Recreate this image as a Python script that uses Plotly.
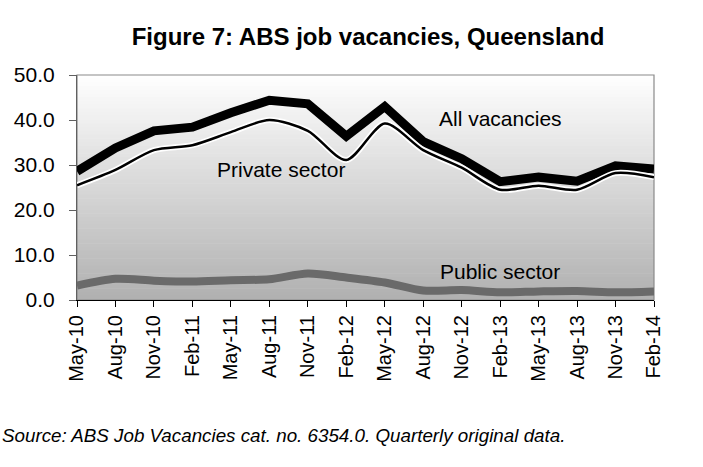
import plotly.graph_objects as go

quarters = ["May-10", "Aug-10", "Nov-10", "Feb-11", "May-11", "Aug-11", "Nov-11", "Feb-12",
            "May-12", "Aug-12", "Nov-12", "Feb-13", "May-13", "Aug-13", "Nov-13", "Feb-14"]
all_vacancies = [28.6, 33.8, 37.6, 38.4, 41.6, 44.4, 43.6, 36.4,
                 43.0, 35.2, 31.4, 26.3, 27.3, 26.4, 29.8, 29.1]
private_sector = [25.5, 28.9, 33.3, 34.4, 37.3, 40.0, 37.6, 31.1,
                  39.2, 33.3, 29.4, 24.5, 25.4, 24.5, 28.2, 27.3]
public_sector = [3.2, 4.7, 4.3, 4.1, 4.4, 4.6, 5.9, 5.0,
                 3.9, 2.1, 2.2, 1.7, 1.9, 2.0, 1.7, 1.9]
y_ticks = [0, 10, 20, 30, 40, 50]

FONT = "Liberation Sans, Arial, sans-serif"

fig = go.Figure()
fig.add_trace(go.Scatter(x=quarters, y=all_vacancies, mode="lines",
                         line=dict(color="black", width=9), hoverinfo="skip"))
fig.add_trace(go.Scatter(x=quarters, y=private_sector, mode="lines",
                         line=dict(color="white", width=6, shape="spline", smoothing=0.8),
                         hoverinfo="skip"))
fig.add_trace(go.Scatter(x=quarters, y=private_sector, mode="lines",
                         line=dict(color="black", width=2.5, shape="spline", smoothing=0.8)))
fig.add_trace(go.Scatter(x=quarters, y=public_sector, mode="lines",
                         line=dict(color="#6a6a6a", width=8, shape="spline", smoothing=0.8)))

# vertical gradient background
shapes = []
n = 60
top = (255, 255, 255)
bot = (176, 176, 176)
for i in range(n):
    t = (i + 0.5) / n
    c = tuple(int(round(top[k] + (bot[k] - top[k]) * t)) for k in range(3))
    shapes.append(dict(type="rect", xref="x domain", yref="y domain",
                       x0=0, x1=1, y0=1 - (i + 1) / n, y1=1 - i / n + 0.002,
                       fillcolor="rgb(%d,%d,%d)" % c, line=dict(width=0), layer="below"))
shapes.append(dict(type="rect", xref="x domain", yref="y domain", x0=0, x1=1, y0=0, y1=1,
                   line=dict(color="#8a8a8a", width=1.2), layer="below"))

annotations = [
    dict(x=11.0, y=40.4, text="All vacancies", showarrow=False, font=dict(size=21, color="black", family=FONT)),
    dict(x=5.3, y=28.9, text="Private sector", showarrow=False, font=dict(size=21, color="black", family=FONT)),
    dict(x=11.0, y=6.4, text="Public sector", showarrow=False, font=dict(size=21, color="black", family=FONT)),
    dict(xref="paper", yref="paper", x=-0.1334, y=-0.604, xanchor="left", yanchor="middle",
         text="<i>Source: ABS Job Vacancies cat. no. 6354.0. Quarterly original data.</i>",
         showarrow=False, font=dict(size=18.8, color="black", family=FONT)),
]

fig.update_layout(
    width=703, height=467,
    margin=dict(l=77, r=49, t=75, b=167),
    paper_bgcolor="white", plot_bgcolor="white",
    showlegend=False,
    title=dict(text="<b>Figure 7: ABS job vacancies, Queensland</b>", x=368 / 703, xanchor="center",
               xref="container", y=1 - 37 / 467, yref="container", yanchor="middle",
               font=dict(size=24, color="black", family=FONT)),
    shapes=shapes,
    annotations=annotations,
    font=dict(family=FONT, color="black"),
)
fig.update_xaxes(type="category", range=[0, len(quarters) - 1], showline=True, linecolor="black",
                 linewidth=1.2, ticks="outside", ticklen=6, tickcolor="black", tickangle=-90,
                 tickfont=dict(size=20, family=FONT, color="black"), showgrid=False, zeroline=False)
fig.update_yaxes(range=[0, 50], tickvals=y_ticks, tickformat=".1f", showline=True, linecolor="#606060",
                 linewidth=1.2, ticks="outside", ticklen=7, tickcolor="#606060", ticklabelstandoff=10,
                 tickfont=dict(size=21, family=FONT, color="black"), showgrid=False, zeroline=False)

fig.write_html("out.html", config={"displayModeBar": False},
               post_script="document.body.style.margin='0';")
